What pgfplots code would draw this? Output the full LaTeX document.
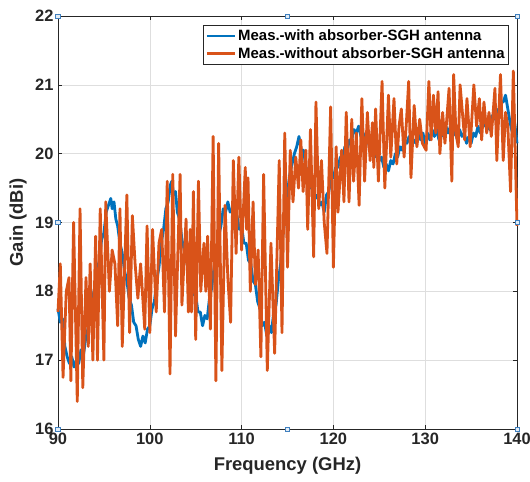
\documentclass[border=0pt]{standalone}
\usepackage{fontspec}
\setmainfont{Liberation Sans}
\usepackage{pgfplots}
\pgfplotsset{compat=1.18}
\definecolor{mblue}{rgb}{0,0.447,0.741}
\definecolor{morange}{rgb}{0.85,0.325,0.098}
\definecolor{maxis}{rgb}{0.15,0.15,0.15}
\definecolor{handle}{rgb}{0.25,0.5,0.75}
\begin{document}
\begin{tikzpicture}
\path[use as bounding box] (-58bp,-53bp) rectangle (472bp,429bp);
\begin{axis}[
  at={(0,0)}, anchor=south west,
  scale only axis, width=459bp, height=413bp,
  xmin=90, xmax=140, ymin=16, ymax=22,
  xtick={90,100,...,140}, ytick={16,17,...,22},
  tick align=inside, major tick length=4bp,
  xtick pos=both, ytick pos=both,
  grid=major, major grid style={color=black!13, line width=0.6bp},
  axis line style={color=maxis, line width=0.7bp},
  tick style={color=maxis, line width=0.6bp},
  /pgf/number format/assume math mode=true,
  ticklabel style={font=\fontsize{16.5}{19}\selectfont\bfseries, text=maxis},
  xticklabel style={yshift=-1bp},
  yticklabel style={xshift=-1bp},
  xlabel={Frequency (GHz)}, ylabel={Gain (dBi)},
  label style={font=\fontsize{18.5}{21}\selectfont\bfseries, text=maxis},
  xlabel style={at={(axis description cs:0.5,-0.0896)}, anchor=center},
  ylabel style={at={(axis description cs:-0.087,0.5)}, anchor=center},
  clip=false,
  legend style={at={(axis description cs:0.9826,0.978)}, anchor=north east,
    font=\fontsize{15}{17}\selectfont\bfseries, draw=maxis, line width=0.6bp,
    fill=white, inner xsep=2bp, inner ysep=2.5bp, row sep=1bp},
  legend cell align=left,
  legend image code/.code={\draw[#1, line width=2.8bp] (0bp,0bp) -- (28bp,0bp);},
]
\addplot[mblue, line width=2.8bp, line join=round] coordinates {
(90,17.75)(90.25,17.55)(90.5,17.6)(90.75,17.2)(91,17.05)(91.25,16.95)(91.5,17.05)(91.75,16.9)
(92,17.0)(92.25,16.95)(92.5,17.15)(92.75,17.05)(93,17.3)(93.25,17.45)(93.5,17.65)(93.75,17.9)
(94,18.05)(94.25,18.3)(94.5,18.45)(94.75,18.75)(95,18.85)(95.25,19.15)(95.5,19.25)(95.75,19.35)
(95.9,19.2)(96.1,19.3)(96.3,19.05)(96.5,18.95)(96.75,18.7)(97,18.55)(97.25,18.3)(97.5,18.15)
(97.75,17.9)(98,17.8)(98.25,17.55)(98.5,17.5)(98.75,17.3)(99,17.2)(99.25,17.35)(99.5,17.25)
(99.75,17.45)(100,17.5)(100.25,17.75)(100.5,17.85)(100.75,18.15)(101,18.35)(101.25,18.7)(101.5,18.9)
(101.75,19.2)(102,19.3)(102.25,19.55)(102.4,19.6)(102.6,19.4)(102.8,19.45)(103,19.15)(103.25,19.05)
(103.5,18.75)(103.75,18.6)(104,18.45)(104.25,18.25)(104.5,18.2)(104.75,17.95)(105,17.95)(105.25,17.7)
(105.5,17.7)(105.75,17.5)(106,17.65)(106.25,17.6)(106.5,17.9)(106.75,18.05)(107,18.35)(107.25,18.55)
(107.5,18.8)(107.75,18.95)(108,19.2)(108.25,19.15)(108.5,19.3)(108.75,19.15)(109,19.2)(109.25,19.05)
(109.5,19.1)(109.75,18.9)(110,18.95)(110.25,18.7)(110.5,18.7)(110.75,18.45)(111,18.4)(111.25,18.15)
(111.5,18.1)(111.75,17.85)(112,17.75)(112.25,17.5)(112.5,17.55)(112.75,17.35)(113,17.5)(113.25,17.4)
(113.5,17.7)(113.75,17.8)(114,18.15)(114.25,18.4)(114.5,18.8)(114.75,19.1)(115,19.45)(115.25,19.7)
(115.5,19.85)(115.75,20.0)(116,20.1)(116.25,20.25)(116.5,20.05)(116.75,20.05)(117,19.8)(117.25,19.75)
(117.5,19.5)(117.75,19.5)(118,19.35)(118.25,19.4)(118.5,19.25)(118.75,19.3)(119,19.15)(119.25,19.4)
(119.5,19.45)(119.75,19.65)(120,19.65)(120.25,19.8)(120.5,19.8)(120.75,19.95)(121,19.95)(121.25,20.1)
(121.5,20.05)(121.75,20.2)(122,20.2)(122.25,20.35)(122.5,20.3)(122.75,20.4)(123,20.25)(123.25,20.3)
(123.5,20.15)(123.75,20.2)(124,20.05)(124.25,20.1)(124.5,19.95)(124.75,20.0)(125,19.9)(125.25,19.95)
(125.5,19.8)(125.75,19.85)(126,19.75)(126.25,19.9)(126.5,19.85)(126.75,20.0)(127,19.95)(127.25,20.1)
(127.5,20.05)(127.75,20.2)(128,20.15)(128.25,20.25)(128.5,20.1)(128.75,20.2)(129,20.15)(129.25,20.3)
(129.5,20.2)(129.75,20.3)(130,20.15)(130.25,20.3)(130.5,20.2)(130.75,20.35)(131,20.25)(131.25,20.35)
(131.5,20.2)(131.75,20.35)(132,20.25)(132.25,20.4)(132.5,20.3)(132.75,20.4)(133,20.25)(133.25,20.35)
(133.5,20.2)(133.75,20.35)(134,20.25)(134.25,20.3)(134.5,20.15)(134.75,20.25)(135,20.15)(135.25,20.3)
(135.5,20.25)(135.75,20.4)(136,20.3)(136.25,20.45)(136.5,20.4)(136.75,20.5)(137,20.35)(137.25,20.55)
(137.5,20.5)(137.75,20.65)(138,20.6)(138.25,20.75)(138.5,20.75)(138.75,20.85)(139,20.65)(139.25,20.45)
(139.5,20.3)(139.75,20.45)(140,20.15)
};
\addlegendentry{Meas.-with absorber-SGH antenna}
\addplot[morange, line width=2.8bp, line join=round] coordinates {
(90.0,17.7)(90.25,18.4)(90.55,16.75)(90.9,18.0)(91.2,18.2)(91.4,16.7)(91.7,19.0)(92.1,16.4)
(92.4,19.2)(92.7,16.6)(93.05,18.2)(93.3,17.2)(93.5,18.4)(93.8,17.0)(94.1,18.8)(94.3,17.0)
(94.6,19.2)(95.0,17.0)(95.2,19.3)(95.6,18.0)(95.9,18.6)(96.2,18.4)(96.5,17.5)(96.75,19.2)
(97.0,17.2)(97.25,18.3)(97.5,19.4)(97.8,17.4)(98.1,19.1)(98.4,18.4)(98.7,17.9)(99.0,18.4)
(99.45,17.45)(99.7,18.95)(100.0,17.4)(100.3,18.9)(100.7,17.7)(101.0,18.7)(101.3,18.9)(101.6,17.7)
(101.9,19.6)(102.2,16.8)(102.5,19.7)(102.8,17.35)(103.3,19.7)(103.5,17.8)(103.95,19.05)(104.2,17.7)
(104.4,18.9)(104.55,17.7)(104.75,19.45)(105.0,17.3)(105.3,19.6)(105.55,18.0)(105.9,18.7)(106.1,18.0)
(106.3,18.8)(106.6,17.45)(106.9,20.25)(107.2,16.7)(107.5,20.15)(107.85,16.85)(108.2,19.25)(108.5,18.2)
(108.8,17.55)(109.1,19.9)(109.4,18.55)(109.7,19.95)(110.0,18.6)(110.4,19.8)(110.55,18.9)(110.7,19.65)
(110.95,18.0)(111.25,19.3)(111.5,18.1)(111.8,18.6)(112.1,17.05)(112.4,19.7)(112.8,16.85)(113.2,18.7)
(113.6,17.1)(114.1,19.9)(114.4,17.4)(114.7,20.3)(115.0,18.35)(115.3,20.05)(115.6,19.3)(115.9,19.95)
(116.2,19.5)(116.45,20.2)(116.7,19.45)(117.0,20.05)(117.2,18.9)(117.5,20.35)(117.85,18.5)(118.1,20.75)
(118.4,19.2)(118.7,19.9)(119.0,19.0)(119.3,18.55)(119.7,20.68)(120.0,18.35)(120.3,20.1)(120.5,19.15)
(120.9,20.05)(121.15,19.3)(121.4,20.6)(121.7,19.3)(122.0,20.5)(122.2,19.6)(122.5,20.3)(122.8,19.25)
(123.1,20.8)(123.4,19.6)(123.7,20.6)(124.0,19.9)(124.25,20.45)(124.4,19.8)(124.6,20.65)(124.9,19.6)
(125.3,21.05)(125.6,19.5)(126.0,20.85)(126.25,19.95)(126.6,20.8)(126.9,19.85)(127.15,20.4)(127.4,20.65)
(127.7,19.95)(127.95,20.45)(128.2,21.05)(128.45,19.65)(128.8,20.7)(129.1,20.1)(129.4,20.5)(129.7,20.15)
(130.1,20.05)(130.4,21.05)(130.65,20.2)(130.9,20.85)(131.15,20.3)(131.4,20.9)(131.6,20.0)(131.9,20.6)
(132.15,20.15)(132.35,20.5)(132.6,20.95)(132.9,19.6)(133.1,21.15)(133.35,20.3)(133.6,20.1)(133.8,21.0)
(134.05,20.6)(134.3,20.2)(134.55,20.8)(134.9,20.1)(135.3,21.0)(135.6,20.4)(135.9,20.8)(136.15,20.2)
(136.4,20.75)(136.7,20.3)(136.95,20.6)(137.2,20.25)(137.6,20.95)(137.8,19.9)(138.2,21.15)(138.5,19.9)
(138.75,20.6)(139.0,20.4)(139.3,19.45)(139.6,21.2)(140.0,18.95)
};
\addlegendentry{Meas.-without absorber-SGH antenna}
\addplot[only marks, mark=square*, mark size=2.2bp, forget plot,
  mark options={draw=handle, fill=white!85!handle, line width=0.6bp}] coordinates {
(90,16)(115,16)(140,16)(90,19)(140,19)(90,22)(115,22)(140,22)
};
\end{axis}
\end{tikzpicture}
\end{document}
